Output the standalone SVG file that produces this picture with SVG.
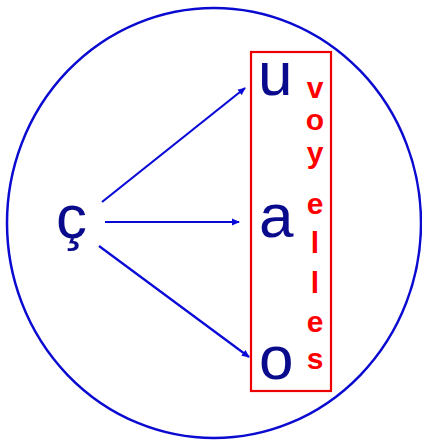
<svg xmlns="http://www.w3.org/2000/svg" width="422" height="442" viewBox="0 0 422 442">
<style>
.big{font-family:"Liberation Sans",Arial,sans-serif;font-size:62px;fill:#0a0a8c}
.red{font-family:"Liberation Sans",Arial,sans-serif;font-size:30px;font-weight:bold;fill:#ff0000;text-anchor:middle}
.arr{stroke:#0a0ad8;stroke-width:2.2;fill:none;marker-end:url(#ah)}
</style>
<defs>
<marker id="ah" markerWidth="8" markerHeight="8" refX="7" refY="4" orient="auto" markerUnits="userSpaceOnUse">
<path d="M0,0.5 L8,4 L0,7.5 Z" fill="#0a0ad8"/>
</marker>
</defs>
<g id="circle">
<ellipse cx="214" cy="223" rx="207" ry="215" fill="none" stroke="#0a0ad0" stroke-width="2.5"/>
</g>
<g id="box">
<rect x="251" y="52" width="80" height="339" fill="none" stroke="#ee0000" stroke-width="2.2"/>
</g>
<g id="node-c"><text class="big" x="56" y="238">ç</text></g>
<g id="node-u"><text class="big" x="258" y="95">u</text></g>
<g id="node-a"><text class="big" x="259" y="237">a</text></g>
<g id="node-o"><text class="big" x="259" y="379">o</text></g>
<g id="label-voyelles">
<text class="red" x="315" y="98">v</text>
<text class="red" x="315" y="130">o</text>
<text class="red" x="315" y="163">y</text>
<text class="red" x="315" y="214">e</text>
<text class="red" x="315" y="253">l</text>
<text class="red" x="315" y="293">l</text>
<text class="red" x="315" y="332">e</text>
<text class="red" x="315" y="369">s</text>
</g>
<g id="connectors">
<line class="arr" x1="102" y1="202" x2="245" y2="88"/>
<line class="arr" x1="105" y1="222" x2="239" y2="222"/>
<line class="arr" x1="99" y1="246" x2="249" y2="357"/>
</g>
</svg>
